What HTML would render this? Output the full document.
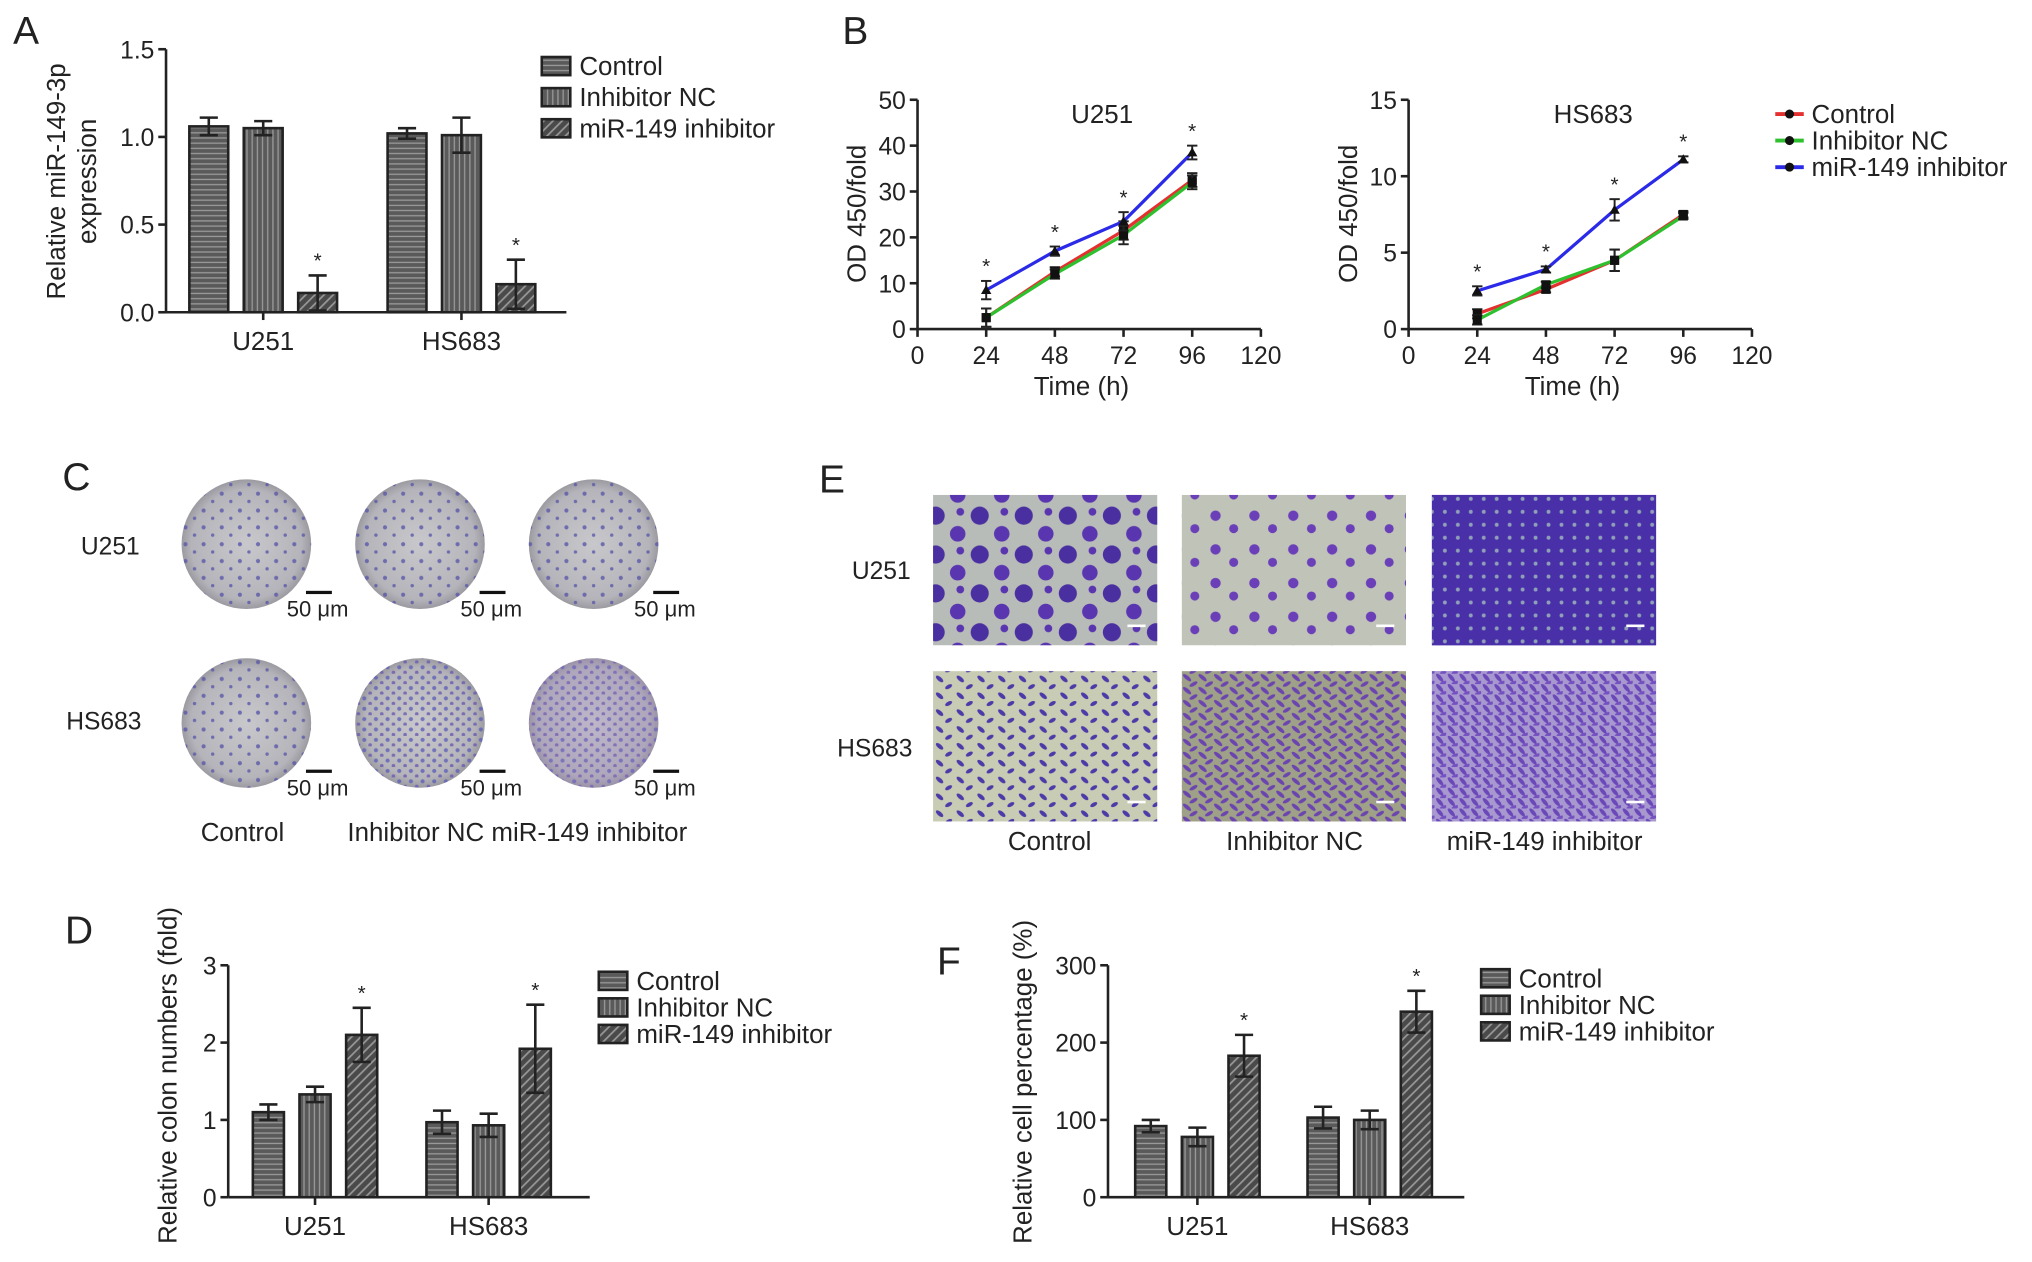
<!DOCTYPE html>
<html><head><meta charset="utf-8"><style>
html,body{margin:0;padding:0;background:#fff;}
svg{display:block;font-family:"Liberation Sans",Arial,sans-serif;}
</style></head><body>
<svg id="fig" width="2032" height="1262" viewBox="0 0 1568 974" xmlns="http://www.w3.org/2000/svg">
<defs>
<pattern id="pH" width="4" height="4" patternUnits="userSpaceOnUse"><rect width="4" height="4" fill="#5a5a5a"/><rect y="2" width="4" height="1" fill="#9a9a9a"/></pattern>
<pattern id="pV" width="4" height="4" patternUnits="userSpaceOnUse"><rect width="4" height="4" fill="#5a5a5a"/><rect x="2" width="1" height="4" fill="#9a9a9a"/></pattern>
<pattern id="pD" width="5" height="5" patternUnits="userSpaceOnUse" patternTransform="rotate(45)"><rect width="5" height="5" fill="#4a4a4a"/><rect x="2" width="1.3" height="5" fill="#9a9a9a"/></pattern>
<pattern id="dots" width="14" height="13" patternUnits="userSpaceOnUse"><circle cx="3" cy="4" r="1.6" fill="#5b58a8"/><circle cx="10" cy="10" r="1.3" fill="#5b58a8"/></pattern>
<pattern id="dots2" width="9" height="8" patternUnits="userSpaceOnUse"><circle cx="2" cy="3" r="1.6" fill="#6060b8"/><circle cx="6.5" cy="7" r="1.4" fill="#6a5ab0"/></pattern>
<pattern id="blobs" width="34" height="30" patternUnits="userSpaceOnUse"><circle cx="8" cy="8" r="7" fill="#4a2fa0"/><circle cx="25" cy="22" r="6" fill="#5a35b0"/><circle cx="27" cy="5" r="3" fill="#5a35b0"/></pattern>
<pattern id="blobs2" width="30" height="26" patternUnits="userSpaceOnUse"><circle cx="8" cy="8" r="4" fill="#6a3fb8"/><circle cx="22" cy="18" r="3.5" fill="#6a3fb8"/></pattern>
<pattern id="dense" width="10" height="10" patternUnits="userSpaceOnUse"><rect width="10" height="10" fill="#4a30a8"/><circle cx="5" cy="5" r="1.5" fill="#8fa0b8"/></pattern>
<pattern id="cells" width="16" height="13" patternUnits="userSpaceOnUse"><ellipse cx="5" cy="4" rx="3.5" ry="1.6" transform="rotate(40 5 4)" fill="#4b3aa8"/><ellipse cx="12" cy="10" rx="3" ry="1.5" transform="rotate(-30 12 10)" fill="#4b3aa8"/></pattern>
<pattern id="cells2" width="12" height="10" patternUnits="userSpaceOnUse"><ellipse cx="4" cy="3" rx="4" ry="1.5" transform="rotate(40 4 3)" fill="#6b44b0"/><ellipse cx="9" cy="8" rx="3.5" ry="1.4" transform="rotate(-30 9 8)" fill="#6b44b0"/></pattern>
<pattern id="cells3" width="9" height="8" patternUnits="userSpaceOnUse"><rect width="9" height="8" fill="#a898d0"/><ellipse cx="4" cy="3" rx="4" ry="1.5" transform="rotate(50 4 3)" fill="#6a48b8"/><ellipse cx="7" cy="7" rx="3" ry="1.3" transform="rotate(-20 7 7)" fill="#7450c0"/></pattern>
<radialGradient id="dish"><stop offset="0" stop-color="#c8c8cc"/><stop offset="0.85" stop-color="#b4b4ba"/><stop offset="1" stop-color="#9a9aa0"/></radialGradient>
</defs>
<g id="root"></g>
</svg>
<script>
// ---- Panel A data ----
const aCats = ["U251", "HS683"];
const aControl = [1.06, 1.02];
const aControlErr = [0.05, 0.03];
const aNC = [1.05, 1.01];
const aNCErr = [0.04, 0.10];
const aInh = [0.11, 0.16];
const aInhErr = [0.10, 0.14];
const aTicks = ["0.0", "0.5", "1.0", "1.5"];
// ---- Panel B data ----
const bTimes = [24, 48, 72, 96];
const bXTicks = [0, 24, 48, 72, 96, 120];
const bU251Control = [2.5, 12.5, 21.5, 32.5];
const bU251NC = [2.5, 12.0, 20.5, 32.0];
const bU251Inh = [8.5, 17.0, 23.5, 38.5];
const bU251Err = [2.0, 1.0, 2.0, 1.5];
const bU251Ticks = [0, 10, 20, 30, 40, 50];
const bHSControl = [1.0, 2.6, 4.5, 7.5];
const bHSNC = [0.6, 2.9, 4.5, 7.4];
const bHSInh = [2.5, 3.9, 7.8, 11.1];
const bHSErr = [0.3, 0.2, 0.7, 0.2];
const bHSTicks = [0, 5, 10, 15];
// ---- Panel D data ----
const dCats = ["U251", "HS683"];
const dControl = [1.1, 0.97];
const dControlErr = [0.1, 0.15];
const dNC = [1.33, 0.93];
const dNCErr = [0.1, 0.15];
const dInh = [2.1, 1.92];
const dInhErr = [0.35, 0.57];
const dTicks = [0, 1, 2, 3];
// ---- Panel F data ----
const fCats = ["U251", "HS683"];
const fControl = [92, 103];
const fControlErr = [8, 14];
const fNC = [78, 100];
const fNCErr = [12, 12];
const fInh = [183, 240];
const fInhErr = [27, 27];
const fTicks = [0, 100, 200, 300];

const NS = "http://www.w3.org/2000/svg";
const root = document.getElementById("root");
function mk(tag, attrs, parent) {
  const e = document.createElementNS(NS, tag);
  for (const k in attrs) e.setAttribute(k, attrs[k]);
  (parent || root).appendChild(e);
  return e;
}
function txt(s, x, y, size, anchor, parent, rot) {
  const t = mk("text", {x: x, y: y, "font-size": size, "text-anchor": anchor || "middle", fill: "#222"}, parent);
  if (rot) t.setAttribute("transform", "rotate(-90 " + x + " " + y + ")");
  t.textContent = s;
  return t;
}
function grp(name) {
  const g = mk("g", {});
  
  
  return g;
}

function barChart(o) {
  const g = grp(o.name);
  const y = v => o.y0 - (v / o.max) * (o.y0 - o.yTop);
  mk("line", {x1: o.x0, y1: o.y0, x2: o.x1, y2: o.y0, stroke: "#222", "stroke-width": 2}, g);
  mk("line", {x1: o.x0, y1: o.y0, x2: o.x0, y2: o.yTop, stroke: "#222", "stroke-width": 2}, g);
  o.ticks.forEach(t => {
    const v = parseFloat(t);
    mk("line", {x1: o.x0 - 6, y1: y(v), x2: o.x0, y2: y(v), stroke: "#222", "stroke-width": 2}, g);
    const tl = txt(String(t), o.x0 - 9, y(v) + 7, 19, "end", g);
    
    
  });
  const series = [[o.s1, o.e1, "url(#pH)"], [o.s2, o.e2, "url(#pV)"], [o.s3, o.e3, "url(#pD)"]];
  o.cats.forEach((c, i) => {
    const cx = o.catX[i];
    mk("line", {x1: cx, y1: o.y0, x2: cx, y2: o.y0 + 6, stroke: "#222", "stroke-width": 2}, g);
    const cl = txt(c, cx, o.y0 + 29, 20, "middle", g);
    
    
    series.forEach((s, k) => {
      const bx = cx + (k - 1) * o.gap;
      const v = s[0][i], e = s[1][i];
      const r = mk("rect", {x: bx - o.bw / 2, y: y(v), width: o.bw, height: o.y0 - y(v), fill: s[2], stroke: "#222", "stroke-width": 2}, g);
      
      
      mk("line", {x1: bx, y1: y(v - e), x2: bx, y2: y(v + e), stroke: "#222", "stroke-width": 2}, g);
      mk("line", {x1: bx - 7, y1: y(v + e), x2: bx + 7, y2: y(v + e), stroke: "#222", "stroke-width": 2}, g);
      mk("line", {x1: bx - 7, y1: y(v - e), x2: bx + 7, y2: y(v - e), stroke: "#222", "stroke-width": 2}, g);
      if (k === 2) txt("*", bx, y(v + e) - 6, 16, "middle", g);
    });
  });
  o.ylab.forEach((l, i) => txt(l, o.ylabX + i * 24, o.ylabY, 20, "middle", g, true));
  const names = ["Control", "Inhibitor NC", "miR-149 inhibitor"];
  const fills = ["url(#pH)", "url(#pV)", "url(#pD)"];
  names.forEach((n, k) => {
    const ly = o.legY + k * o.legDy;
    const sw = mk("rect", {x: o.legX, y: ly - 7, width: 22, height: 14, fill: fills[k], stroke: "#222", "stroke-width": 2}, g);
    
    
    const lt = txt(n, o.legX + 29, ly + 7, 20, "start", g);
    
    
  });
}

function lineChart(o) {
  const g = grp(o.name);
  const x = t => o.x0 + (t / 120) * (o.x1 - o.x0);
  const y = v => o.y0 - (v / o.max) * (o.y0 - o.yTop);
  mk("line", {x1: o.x0, y1: o.y0, x2: o.x1, y2: o.y0, stroke: "#222", "stroke-width": 2}, g);
  mk("line", {x1: o.x0, y1: o.y0, x2: o.x0, y2: o.yTop, stroke: "#222", "stroke-width": 2}, g);
  o.yTicks.forEach(v => {
    mk("line", {x1: o.x0 - 6, y1: y(v), x2: o.x0, y2: y(v), stroke: "#222", "stroke-width": 2}, g);
    txt(String(v), o.x0 - 9, y(v) + 7, 19, "end", g);
  });
  bXTicks.forEach(t => {
    mk("line", {x1: x(t), y1: o.y0, x2: x(t), y2: o.y0 + 6, stroke: "#222", "stroke-width": 2}, g);
    txt(String(t), x(t), o.y0 + 27, 19, "middle", g);
  });
  txt(o.title, (o.x0 + o.x1) / 2 + 10, 95, 20, "middle", g);
  txt("Time (h)", (o.x0 + o.x1) / 2 - 6, o.y0 + 51, 20, "middle", g);
  txt("OD 450/fold", o.x0 - 40, 165, 20, "middle", g, true);
  const ser = [[o.c, "#e53030", "Control"], [o.n, "#2ec02e", "Inhibitor NC"], [o.i, "#2a2ae8", "miR-149 inhibitor"]];
  ser.forEach((s, k) => {
    const pts = bTimes.map((t, j) => x(t) + "," + y(s[0][j])).join(" ");
    const pl = mk("polyline", {points: pts, fill: "none", stroke: s[1], "stroke-width": 2.5}, g);
    
    
    bTimes.forEach((t, j) => {
      const v = s[0][j], e = o.err[j];
      mk("line", {x1: x(t), y1: y(v - e), x2: x(t), y2: y(v + e), stroke: "#222", "stroke-width": 1.5}, g);
      mk("line", {x1: x(t) - 4, y1: y(v + e), x2: x(t) + 4, y2: y(v + e), stroke: "#222", "stroke-width": 1.5}, g);
      mk("line", {x1: x(t) - 4, y1: y(v - e), x2: x(t) + 4, y2: y(v - e), stroke: "#222", "stroke-width": 1.5}, g);
      const px = x(t), py = y(v);
      if (k === 2) mk("polygon", {points: (px - 4) + "," + (py + 3) + " " + (px + 4) + "," + (py + 3) + " " + px + "," + (py - 4), fill: "#111"}, g);
      else mk("rect", {x: px - 3.5, y: py - 3.5, width: 7, height: 7, fill: "#111"}, g);
      if (k === 2) txt("*", px, y(v + e) - 6, 16, "middle", g);
    });
  });
}

barChart({name: "panel-a-chart", x0: 128, x1: 437, y0: 241, yTop: 38, max: 1.5, ticks: aTicks,
  cats: aCats, catX: [203, 356], gap: 42, bw: 30,
  s1: aControl, e1: aControlErr, s2: aNC, e2: aNCErr, s3: aInh, e3: aInhErr,
  ylab: ["Relative miR-149-3p", "expression"], ylabX: 50, ylabY: 140, legX: 418, legY: 51, legDy: 24});
barChart({name: "panel-d-chart", x0: 176, x1: 455, y0: 924, yTop: 745, max: 3, ticks: dTicks,
  cats: dCats, catX: [243, 377], gap: 36, bw: 24,
  s1: dControl, e1: dControlErr, s2: dNC, e2: dNCErr, s3: dInh, e3: dInhErr,
  ylab: ["Relative colon numbers (fold)"], ylabX: 136, ylabY: 830, legX: 462, legY: 757, legDy: 20.5});
barChart({name: "panel-f-chart", x0: 855, x1: 1130, y0: 924, yTop: 745, max: 300, ticks: fTicks,
  cats: fCats, catX: [924, 1057], gap: 36, bw: 24,
  s1: fControl, e1: fControlErr, s2: fNC, e2: fNCErr, s3: fInh, e3: fInhErr,
  ylab: ["Relative cell percentage (%)"], ylabX: 796, ylabY: 835, legX: 1143, legY: 755, legDy: 20.5});

lineChart({name: "panel-b-u251-chart", title: "U251", x0: 708, x1: 973, y0: 254, yTop: 77, max: 50,
  yTicks: bU251Ticks, c: bU251Control, n: bU251NC, i: bU251Inh, err: bU251Err});
lineChart({name: "panel-b-hs683-chart", title: "HS683", x0: 1087, x1: 1352, y0: 254, yTop: 77, max: 15,
  yTicks: bHSTicks, c: bHSControl, n: bHSNC, i: bHSInh, err: bHSErr});

const lb = grp("panel-b-legend");
[["#e53030", "Control"], ["#2ec02e", "Inhibitor NC"], ["#2a2ae8", "miR-149 inhibitor"]].forEach((s, k) => {
  const ly = 88 + k * 20.5;
  mk("line", {x1: 1370, y1: ly, x2: 1392, y2: ly, stroke: s[0], "stroke-width": 3}, lb);
  mk("circle", {cx: 1381, cy: ly, r: 3.5, fill: "#111"}, lb);
  const t = txt(s[1], 1398, ly + 7, 20, "start", lb);
  
  
});

[["A", 10, 34], ["B", 650, 34], ["C", 48, 378], ["E", 632, 380], ["D", 50, 728], ["F", 723, 752]].forEach(p => {
  const t = txt(p[0], p[1], p[2], 30, "start");
  
  
});

const gc = grp("panel-c-colony-images");
const dishX = [190, 324, 458], dishY = [420, 558];
const dishFill = [["url(#dots)", "url(#dots)", "url(#dots)"], ["url(#dots)", "url(#dots2)", "url(#dots2)"]];
dishY.forEach((cy, r) => dishX.forEach((cx, c) => {
  const d = mk("circle", {cx: cx, cy: cy, r: 50, fill: "url(#dish)"}, gc);
  
  
  mk("circle", {cx: cx, cy: cy, r: 50, fill: dishFill[r][c], opacity: 0.8}, gc);
  if (r === 1 && c === 2) mk("circle", {cx: cx, cy: cy, r: 50, fill: "#a080c0", opacity: 0.25}, gc);
  mk("rect", {x: cx + 46, y: cy + 36, width: 20, height: 2.5, fill: "#111"}, gc);
  txt("50 μm", cx + 55, cy + 56, 17, "middle", gc);
}));
txt("U251", 85, 428, 19, "middle", gc);
txt("HS683", 80, 563, 19, "middle", gc);
txt("Control", 187, 649, 20, "middle", gc);
txt("Inhibitor NC miR-149 inhibitor", 268, 649, 20, "start", gc);

const ge = grp("panel-e-migration-images");
const imX = [720, 912, 1105], imY = [382, 518];
const bg = [["#b8bcb8", "#c0c4b8", "#4a30a8"], ["#c8ccb4", "#9ea088", "#a898d0"]];
const fg = [["url(#blobs)", "url(#blobs2)", "url(#dense)"], ["url(#cells)", "url(#cells2)", "url(#cells3)"]];
imY.forEach((yy, r) => imX.forEach((xx, c) => {
  const b = mk("rect", {x: xx, y: yy, width: 173, height: 116, fill: bg[r][c]}, ge);
  
  
  mk("rect", {x: xx, y: yy, width: 173, height: 116, fill: fg[r][c]}, ge);
  mk("rect", {x: xx + 150, y: yy + 100, width: 14, height: 2, fill: "#fff"}, ge);
}));
txt("U251", 680, 447, 19, "middle", ge);
txt("HS683", 675, 584, 19, "middle", ge);
txt("Control", 810, 656, 20, "middle", ge);
txt("Inhibitor NC", 999, 656, 20, "middle", ge);
txt("miR-149 inhibitor", 1192, 656, 20, "middle", ge);
</script>
</body></html>
